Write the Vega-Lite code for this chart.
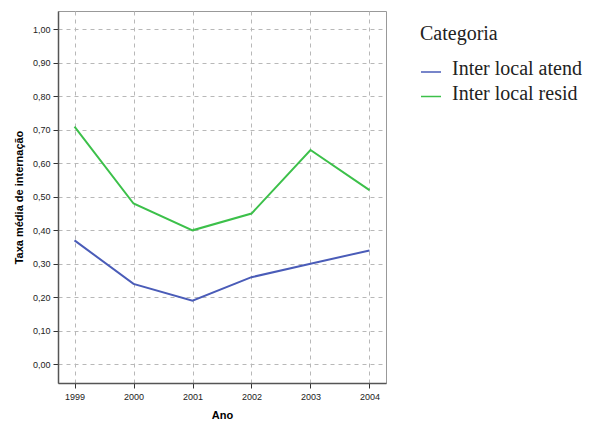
{
  "$schema": "https://vega.github.io/schema/vega-lite/v6.json",
  "width": 328,
  "height": 372,
  "autosize": "none",
  "padding": {"left": 58, "top": 11, "right": 205, "bottom": 40},
  "background": "white",
  "config": {
    "view": {"stroke": "#999999", "strokeWidth": 1},
    "font": "Liberation Sans"
  },
  "data": {
    "values": [
      {"Ano": 1999, "Taxa": 0.37, "Categoria": "Inter local atend"},
      {"Ano": 2000, "Taxa": 0.24, "Categoria": "Inter local atend"},
      {"Ano": 2001, "Taxa": 0.19, "Categoria": "Inter local atend"},
      {"Ano": 2002, "Taxa": 0.26, "Categoria": "Inter local atend"},
      {"Ano": 2003, "Taxa": 0.30, "Categoria": "Inter local atend"},
      {"Ano": 2004, "Taxa": 0.34, "Categoria": "Inter local atend"},
      {"Ano": 1999, "Taxa": 0.71, "Categoria": "Inter local resid"},
      {"Ano": 2000, "Taxa": 0.48, "Categoria": "Inter local resid"},
      {"Ano": 2001, "Taxa": 0.40, "Categoria": "Inter local resid"},
      {"Ano": 2002, "Taxa": 0.45, "Categoria": "Inter local resid"},
      {"Ano": 2003, "Taxa": 0.64, "Categoria": "Inter local resid"},
      {"Ano": 2004, "Taxa": 0.52, "Categoria": "Inter local resid"}
    ]
  },
  "mark": {"type": "line", "strokeWidth": 2},
  "encoding": {
    "x": {
      "field": "Ano",
      "type": "quantitative",
      "scale": {"domain": [1998.72, 2004.28], "nice": false, "zero": false},
      "axis": {
        "values": [1999, 2000, 2001, 2002, 2003, 2004],
        "format": "d",
        "title": "Ano",
        "titleFont": "Liberation Sans",
        "titleFontSize": 11,
        "titleFontWeight": "bold",
        "titleColor": "#000000",
        "titlePadding": 8,
        "labelFontSize": 9,
        "labelColor": "#222222",
        "labelPadding": 4,
        "domainColor": "#555555",
        "domainWidth": 1.5,
        "tickColor": "#333333",
        "tickSize": 5,
        "grid": true,
        "gridDash": [4, 4],
        "gridColor": "#b8b8b8",
        "gridWidth": 1
      }
    },
    "y": {
      "field": "Taxa",
      "type": "quantitative",
      "scale": {"domain": [-0.056, 1.055], "nice": false, "zero": false},
      "axis": {
        "values": [0, 0.1, 0.2, 0.3, 0.4, 0.5, 0.6, 0.7, 0.8, 0.9, 1.0],
        "labelExpr": "replace(format(datum.value, '.2f'), '.', ',')",
        "title": "Taxa média de internação",
        "titleFont": "Liberation Sans",
        "titleFontSize": 11,
        "titleFontWeight": "bold",
        "titleColor": "#000000",
        "titlePadding": 8,
        "labelFontSize": 9,
        "labelColor": "#222222",
        "labelPadding": 3,
        "domainColor": "#555555",
        "domainWidth": 1.5,
        "tickColor": "#333333",
        "tickSize": 5,
        "grid": true,
        "gridDash": [4, 4],
        "gridColor": "#b8b8b8",
        "gridWidth": 1
      }
    },
    "color": {
      "field": "Categoria",
      "type": "nominal",
      "scale": {"domain": ["Inter local atend", "Inter local resid"], "range": ["#4a5cb8", "#3cc04a"]},
      "legend": {
        "title": "Categoria",
        "orient": "none",
        "legendX": 362,
        "legendY": 13,
        "titleFont": "Liberation Serif",
        "titleFontSize": 20,
        "titleFontWeight": "normal",
        "titleColor": "#222222",
        "titlePadding": 14,
        "labelFont": "Liberation Serif",
        "labelFontSize": 20,
        "labelColor": "#222222",
        "labelOffset": 10,
        "rowPadding": 3.5,
        "symbolType": "M -1 0.3 L 1 0.3",
        "symbolSize": 400,
        "symbolStrokeWidth": 1.5
      }
    }
  }
}
